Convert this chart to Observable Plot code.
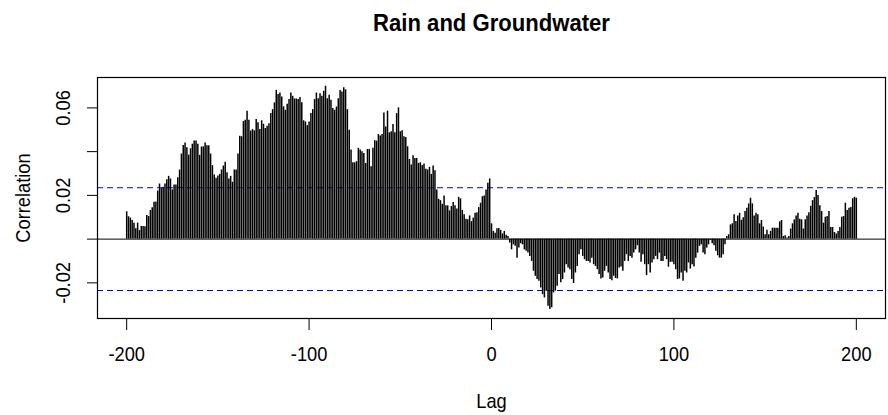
<!DOCTYPE html>
<html><head><meta charset="utf-8">
<script src="https://cdn.jsdelivr.net/npm/d3@7"></script>
<script src="https://cdn.jsdelivr.net/npm/@observablehq/plot@0.6"></script>
<style>
body{margin:0;background:#fff;}
#chart svg{display:block;}
</style></head><body><div id="chart"></div>
<script>
const titleText = "Rain and Groundwater";
const xLabel = "Lag";
const yLabel = "Correlation";
const lagStart = -200;
const correlation = [
  // lags -200 .. -135
  0.0125,0.0102,0.0096,0.0085,0.0073,0.0047,0.0073,0.0039,0.0058,0.0058,
  0.0056,0.0108,0.0103,0.0131,0.0143,0.0169,0.0170,0.0220,0.0252,0.0231,
  0.0237,0.0252,0.0272,0.0287,0.0275,0.0225,0.0248,0.0248,0.0281,0.0316,
  0.0389,0.0428,0.0439,0.0418,0.0384,0.0413,0.0434,0.0449,0.0449,0.0434,
  0.0383,0.0421,0.0422,0.0440,0.0427,0.0427,0.0389,0.0336,0.0293,0.0278,
  0.0289,0.0296,0.0316,0.0334,0.0351,0.0304,0.0275,0.0287,0.0260,0.0316,
  0.0316,0.0389,0.0470,0.0468,0.0538,0.0544,
  // lags -134 .. -68
  0.0585,0.0544,0.0494,0.0501,0.0495,0.0547,0.0532,0.0501,0.0541,0.0525,
  0.0506,0.0516,0.0528,0.0574,0.0592,0.0623,0.0680,0.0661,0.0668,0.0650,
  0.0605,0.0589,0.0617,0.0638,0.0668,0.0653,0.0641,0.0641,0.0638,0.0647,
  0.0623,0.0541,0.0536,0.0519,0.0536,0.0574,0.0592,0.0638,0.0668,0.0642,
  0.0665,0.0653,0.0676,0.0699,0.0642,0.0658,0.0635,0.0597,0.0589,0.0604,
  0.0642,0.0680,0.0673,0.0692,0.0683,0.0592,0.0498,0.0407,0.0349,0.0349,
  0.0354,0.0415,0.0407,0.0399,0.0392,0.0346,0.0410,
  // lags -67 .. -1
  0.0410,0.0331,0.0415,0.0450,0.0448,0.0478,0.0471,0.0478,0.0577,0.0513,
  0.0585,0.0486,0.0491,0.0524,0.0486,0.0574,0.0600,0.0491,0.0495,0.0468,
  0.0465,0.0422,0.0364,0.0339,0.0381,0.0369,0.0369,0.0346,0.0349,0.0337,
  0.0343,0.0319,0.0316,0.0328,0.0296,0.0334,0.0313,0.0225,0.0182,0.0176,
  0.0159,0.0197,0.0152,0.0152,0.0129,0.0149,0.0167,0.0152,0.0138,0.0191,
  0.0184,0.0131,0.0111,0.0091,0.0088,0.0106,0.0080,0.0096,0.0118,0.0121,
  0.0144,0.0164,0.0194,0.0197,0.0225,0.0255,0.0275,
  // lags 0 .. 9
  0.0070,0.0035,0.0027,0.0047,0.0049,0.0040,0.0024,0.0035,0.0018,0.0012,
  // lags 10 .. 70
  -0.0018,-0.0049,-0.0026,-0.0033,-0.0087,-0.0041,-0.0021,-0.0026,-0.0049,-0.0056,
  -0.0064,-0.0079,-0.0102,-0.0147,-0.0170,-0.0185,-0.0193,-0.0223,-0.0254,-0.0269,
  -0.0238,-0.0307,-0.0322,-0.0314,-0.0246,-0.0238,-0.0216,-0.0162,-0.0200,-0.0185,
  -0.0155,-0.0117,-0.0132,-0.0140,-0.0185,-0.0203,-0.0155,-0.0125,-0.0071,-0.0049,
  -0.0079,-0.0094,-0.0102,-0.0102,-0.0109,-0.0087,-0.0117,-0.0125,-0.0140,-0.0162,
  -0.0182,-0.0178,-0.0147,-0.0125,-0.0155,-0.0185,-0.0190,-0.0170,-0.0180,-0.0182,
  -0.0132,
  // lags 71 .. 136
  -0.0128,-0.0147,-0.0102,-0.0071,-0.0102,-0.0079,-0.0087,-0.0064,-0.0049,-0.0030,
  -0.0064,-0.0106,-0.0071,-0.0117,-0.0167,-0.0117,-0.0155,-0.0109,-0.0094,-0.0079,
  -0.0094,-0.0064,-0.0102,-0.0102,-0.0079,-0.0094,-0.0128,-0.0106,-0.0106,-0.0117,
  -0.0140,-0.0185,-0.0182,-0.0155,-0.0193,-0.0147,-0.0155,-0.0109,-0.0137,-0.0117,
  -0.0128,-0.0087,-0.0064,-0.0033,-0.0026,-0.0064,-0.0071,-0.0041,-0.0026,-0.0005,
  -0.0021,-0.0030,-0.0056,-0.0076,-0.0087,-0.0087,-0.0071,-0.0026,0.0012,0.0020,
  0.0065,0.0070,0.0111,0.0080,0.0106,0.0118,
  // lags 137 .. 200
  0.0086,0.0098,0.0126,0.0141,0.0161,0.0187,0.0161,0.0106,0.0118,0.0111,
  0.0070,0.0085,0.0055,0.0020,0.0040,0.0020,0.0035,0.0050,0.0050,0.0050,
  0.0050,0.0079,0.0085,0.0012,0.0015,0.0005,0.0012,0.0046,0.0070,0.0088,
  0.0106,0.0118,0.0091,0.0088,0.0046,0.0088,0.0106,0.0121,0.0150,0.0176,
  0.0190,0.0222,0.0200,0.0152,0.0126,0.0073,0.0100,0.0103,0.0126,0.0053,
  0.0053,0.0030,0.0023,0.0035,0.0053,0.0100,0.0103,0.0164,0.0131,0.0141,
  0.0144,0.0184,0.0191,0.0187
];
const xTicks = [-200, -100, 0, 100, 200];
const yTicks = [-0.02, 0, 0.02, 0.04, 0.06];
const yLabelValues = [-0.02, 0.02, 0.06];
const yLabelTexts = ["-0.02", "0.02", "0.06"];
const ciLevel = 0.0235;

const data = correlation.map((r, i) => ({lag: lagStart + i, r}));
const font = "'Liberation Sans',Arial,sans-serif";

const chart = Plot.plot({
  width: 888, height: 415,
  marginLeft: 97, marginRight: 3, marginTop: 77, marginBottom: 97,
  style: {fontFamily: font, background: "white", color: "black", overflow: "visible"},
  x: {domain: [-216, 216]},
  y: {domain: [-0.0363, 0.0739]},
  marks: [
    Plot.ruleY([ciLevel, -ciLevel], {stroke: "blue", strokeDasharray: "6,4", strokeWidth: 1}),
    Plot.ruleY([0], {stroke: "black", strokeWidth: 1}),
    Plot.ruleX(data, {x: "lag", y1: 0, y2: "r", stroke: "black", strokeWidth: 1.5}),
    Plot.frame({stroke: "black", strokeWidth: 1.2}),
    Plot.axisX({ticks: xTicks, tickSize: 12, tickPadding: 16, tickFormat: d => String(d), fontSize: 21, label: null}),
    Plot.axisY({ticks: yTicks, tickSize: 10, tickFormat: () => "", label: null}),
    Plot.text(yLabelValues, {y: d => d, text: (d, i) => yLabelTexts[i], frameAnchor: "left", textAnchor: "middle", lineAnchor: "middle", dx: -34, rotate: -90, fontSize: 21}),
    Plot.text([xLabel], {text: d => d, frameAnchor: "bottom", textAnchor: "middle", lineAnchor: "middle", dy: 82.5, fontSize: 21}),
    Plot.text([yLabel], {text: d => d, frameAnchor: "left", textAnchor: "middle", lineAnchor: "middle", dx: -74.3, rotate: -90, fontSize: 21}),
    Plot.text([titleText], {text: d => d, frameAnchor: "top", textAnchor: "middle", lineAnchor: "middle", dy: -54.3, fontSize: 24, fontWeight: "bold"})
  ]
});
document.getElementById("chart").appendChild(chart);
// condense glyphs horizontally like the reference rendering
chart.querySelectorAll("text").forEach(t => {
  const s = t.textContent.trim();
  if (!s) return;
  const f = s === titleText ? 0.92 : 0.87;
  const L = t.getComputedTextLength();
  t.setAttribute("textLength", (L * f).toFixed(2));
  t.setAttribute("lengthAdjust", "spacingAndGlyphs");
});
</script></body></html>
